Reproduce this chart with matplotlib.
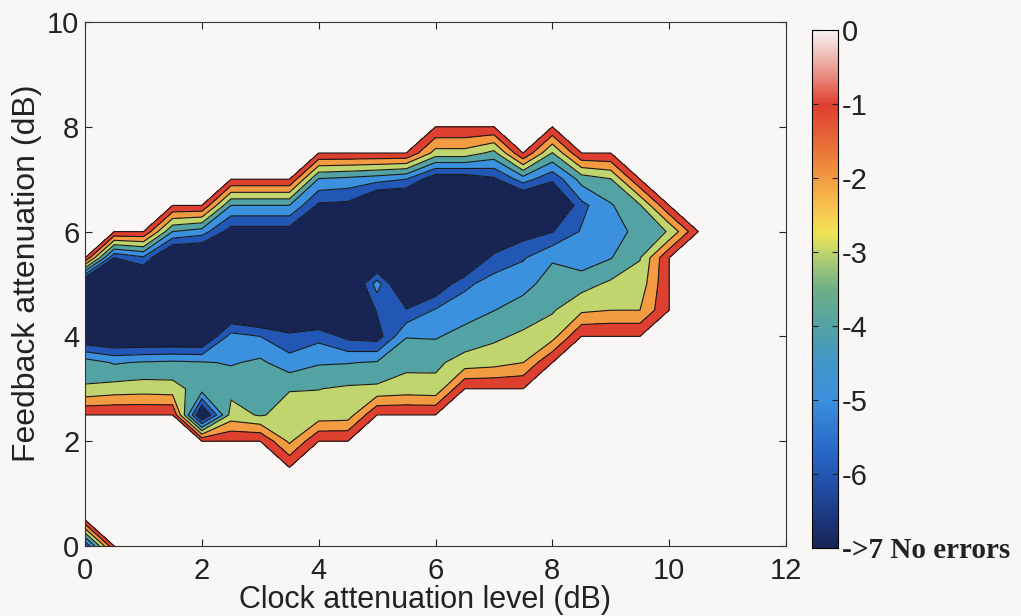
import numpy as np
import matplotlib
matplotlib.use("Agg")
import matplotlib.pyplot as plt
from matplotlib.colors import LinearSegmentedColormap, Normalize
from matplotlib.cm import ScalarMappable

# Measurement grid (dB)
clock_atten = np.arange(0, 12.5, 0.5)
feedback_atten = np.arange(0, 10.5, 0.5)

# log10(BER) for each clock-attenuation column, listed upward from the
# lowest measured feedback attenuation; -8 stands for "no errors".
ber_c00 = [0, -2.9, -3.45, -7.2, -8, -8, 0]                                   # from 2.5 dB
ber_c05 = [0, -2.6, -4.1, -7.5, -8, -8, -6.0, 0]                              # from 2.5 dB
ber_c10 = [0, -2.5, -3.9, -7.5, -8, -8, -5.2, 0]                              # from 2.5 dB
ber_c15 = [0, -2.6, -3.8, -7.5, -8, -8, -8, -4.0, 0]                          # from 2.5 dB
ber_c20 = [0, -7.5, -3.5, -3.9, -7.5, -8, -8, -8, -4.5, 0]                    # from 2.0 dB
ber_c25 = [0, -2.6, -3.3, -4.1, -4.6, -7.5, -8, -8, -6.5, -4.0, 0]            # from 2.0 dB
ber_c30 = [0, -3.1, -3.5, -3.8, -5.0, -8, -8, -8, -6.5, -4.0, 0]              # from 2.0 dB
ber_c35 = [0, -2.2, -2.6, -3.05, -4.6, -5.7, -8, -8, -8, -6.5, -4.0, 0]       # from 1.5 dB
ber_c40 = [0, -2.6, -3.02, -4.1, -5.3, -8, -8, -8, -8, -6.2, -4.1, 0]         # from 2.0 dB
ber_c45 = [0, -2.5, -2.85, -4.05, -6.3, -8, -8, -8, -8, -6.3, -4.3, 0]        # from 2.0 dB
ber_c50 = [0, -2.8, -3.9, -6.5, -5.9, -4.5, -8, -8, -8, -4.6, 0]              # from 2.5 dB
ber_c55 = [0, -2.6, -3.25, -4.05, -5.9, -8, -8, -8, -8, -5.0, 0]              # from 2.5 dB
ber_c60 = [0, -2.7, -3.2, -4.1, -4.9, -7.0, -8, -8, -8, -6.8, -2.4, 0]        # from 2.5 dB
ber_c65 = [0, -2.6, -3.6, -4.5, -5.2, -8, -8, -8, -6.8, -2.4, 0]              # from 3.0 dB
ber_c70 = [0, -2.4, -3.2, -4.02, -4.6, -5.6, -8, -8, -6.2, -3.3, 0]           # from 3.0 dB
ber_c75 = [0, -2.0, -2.8, -3.6, -4.3, -5.1, -6.5, -8, -4.5, 0]                # from 3.0 dB
ber_c80 = [0, -2.4, -3.1, -3.6, -4.1, -6.05, -8, -5.8, -3.05, 0]              # from 3.5 dB
ber_c85 = [0, -2.2, -3.4, -4.6, -4.9, -5.3, -3.6, 0]                          # from 4.0 dB
ber_c90 = [0, -2.0, -2.8, -4.05, -4.7, -4.1, -3.05, 0]                        # from 4.0 dB
ber_c95 = [0, -2.0, -2.6, -3.05, -3.5, -3.1, 0]                               # from 4.0 dB
ber_c100 = [0, 0, 0, -2.94, 0]                                                # from 4.5 dB
ber_c105 = [0]                                                                # from 6.0 dB

# isolated corner measurement at the origin
corner_clock = [0.0, 0.5, 0.0]
corner_feedback = [0.0, 0.0, 0.5]
corner_ber = [-6.0, 0.0, 0.0]

columns = [
    (0.0, 2.5, ber_c00), (0.5, 2.5, ber_c05), (1.0, 2.5, ber_c10),
    (1.5, 2.5, ber_c15), (2.0, 2.0, ber_c20), (2.5, 2.0, ber_c25),
    (3.0, 2.0, ber_c30), (3.5, 1.5, ber_c35), (4.0, 2.0, ber_c40),
    (4.5, 2.0, ber_c45), (5.0, 2.5, ber_c50), (5.5, 2.5, ber_c55),
    (6.0, 2.5, ber_c60), (6.5, 3.0, ber_c65), (7.0, 3.0, ber_c70),
    (7.5, 3.0, ber_c75), (8.0, 3.5, ber_c80), (8.5, 4.0, ber_c85),
    (9.0, 4.0, ber_c90), (9.5, 4.0, ber_c95), (10.0, 4.5, ber_c100),
    (10.5, 6.0, ber_c105),
]

colorbar_ticks = [0, -1, -2, -3, -4, -5, -6, -7]
colorbar_labels = ["0", "-1", "-2", "-3", "-4", "-5", "-6", "->7 No errors"]

# ---- assemble the grid ----
Z = np.full((len(feedback_atten), len(clock_atten)), np.nan)
for ck, fb0, vals in columns:
    j = int(round(ck / 0.5))
    i0 = int(round(fb0 / 0.5))
    Z[i0:i0 + len(vals), j] = vals
for ck, fb, v in zip(corner_clock, corner_feedback, corner_ber):
    Z[int(round(fb / 0.5)), int(round(ck / 0.5))] = v
Zm = np.ma.masked_invalid(Z)

# ---- colour map (white at 0 down to navy at -7) ----
anchors = [
    (0.0, (246, 243, 243)), (-0.5, (235, 160, 150)), (-1.0, (222, 62, 45)),
    (-1.5, (232, 105, 55)), (-2.0, (242, 155, 65)), (-2.5, (246, 205, 80)),
    (-2.75, (240, 228, 85)), (-3.0, (190, 212, 110)), (-3.5, (110, 175, 135)),
    (-4.0, (84, 163, 163)), (-4.5, (65, 150, 200)), (-5.0, (60, 145, 222)),
    (-5.5, (45, 115, 205)), (-6.0, (35, 88, 182)), (-6.5, (30, 60, 135)),
    (-7.0, (24, 36, 84)),
]
anchors = sorted(anchors, key=lambda a: a[0])
cmap = LinearSegmentedColormap.from_list(
    "ber", [((v + 7) / 7, tuple(c / 255 for c in rgb)) for v, rgb in anchors])
norm = Normalize(vmin=-7, vmax=0)

fill_levels = [-9, -6, -5, -4, -3, -2, -1, 0]
band_colors = [cmap(norm(v)) for v in [-7, -6, -5, -4, -3, -2, -1]]

bg = (0.972, 0.970, 0.966)
fig = plt.figure(figsize=(10.21, 6.16), dpi=100, facecolor=bg)
ax = fig.add_axes([85 / 1021, 1 - 546 / 616, 701 / 1021, 524 / 616], facecolor=bg)

ax.contourf(clock_atten, feedback_atten, Zm, levels=fill_levels, colors=band_colors)
ax.contour(clock_atten, feedback_atten, Zm, levels=[-6, -5, -4, -3, -2, -1, -0.001],
           colors="#1a1a1a", linewidths=0.8, linestyles="solid")

ax.set_xlim(0, 12)
ax.set_ylim(0, 10)
ax.set_xticks(range(0, 13, 2))
ax.set_yticks(range(0, 11, 2))
font = "Liberation Sans"
for lbl in ax.get_xticklabels() + ax.get_yticklabels():
    lbl.set_fontfamily(font)
    lbl.set_fontsize(21)
ax.tick_params(direction="in", top=True, right=True, length=5, width=0.8,
               colors="#222222")
ax.tick_params(axis="x", pad=8)
ax.tick_params(axis="y", pad=4)
for s in ax.spines.values():
    s.set_linewidth(0.8)
    s.set_color("#333333")

ax.set_xlabel("Clock attenuation level (dB)", fontfamily=font, fontsize=22, color="#222222")
ax.set_ylabel("Feedback attenuation (dB)", fontfamily=font, fontsize=23, color="#222222")
ax.xaxis.set_label_coords(0.485, -0.075)
ax.yaxis.set_label_coords(-0.062, 0.52)

# ---- colour bar ----
cax = fig.add_axes([812 / 1021, 1 - 548 / 616, 26 / 1021, 518 / 616])
cb = fig.colorbar(ScalarMappable(norm=norm, cmap=cmap), cax=cax)
cb.set_ticks(colorbar_ticks)
cb.set_ticklabels(colorbar_labels)
cb.outline.set_linewidth(0.8)
cax.tick_params(direction="in", left=True, right=True, length=4, width=0.8,
                colors="#222222", pad=3)
for lbl in cax.get_yticklabels():
    lbl.set_fontfamily(font)
    lbl.set_fontsize(21)
last = cax.get_yticklabels()[-1]
last.set_fontfamily("Liberation Serif")
last.set_fontweight("bold")
last.set_fontsize(21)

fig.savefig("out.png", dpi=100, facecolor=bg)
